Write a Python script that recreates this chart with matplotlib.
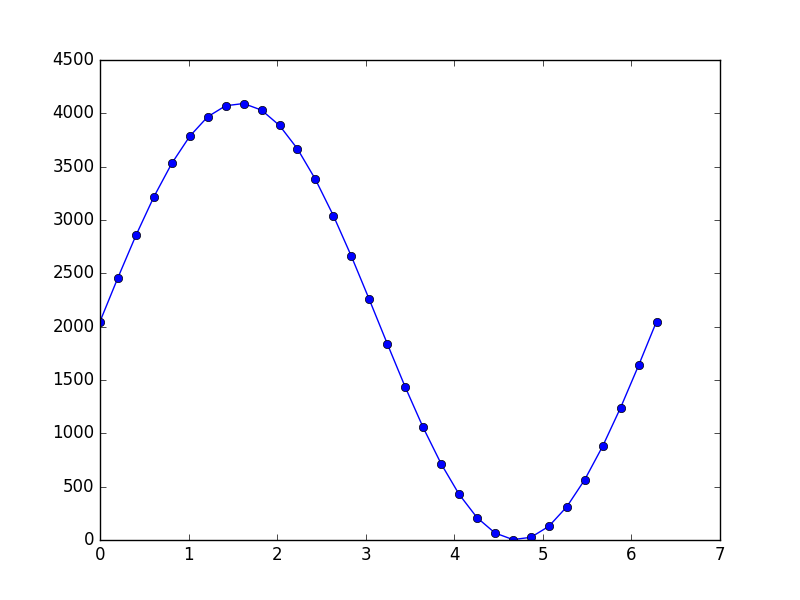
import matplotlib
matplotlib.use("Agg")
import matplotlib.pyplot as plt

# values
x_vals = [0.0, 0.2027, 0.4054, 0.6081, 0.8107, 1.0134, 1.2161, 1.4188,
          1.6215, 1.8242, 2.0268, 2.2295, 2.4322, 2.6349, 2.8376, 3.0403,
          3.2429, 3.4456, 3.6483, 3.8510, 4.0537, 4.2564, 4.4590, 4.6617,
          4.8644, 5.0671, 5.2698, 5.4725, 5.6751, 5.8778, 6.0805, 6.2832]
y_vals = [2048, 2460, 2855, 3217, 3531, 3785, 3968, 4071,
          4092, 4030, 3886, 3667, 3381, 3041, 2661, 2255,
          1841, 1435, 1055, 715, 429, 210, 66, 4,
          25, 128, 311, 565, 879, 1241, 1636, 2048]

plt.style.use("classic")
fig = plt.figure(figsize=(8, 6), dpi=100)
ax = fig.add_subplot(111)
ax.plot(x_vals, y_vals, "o-", color="b")
ax.set_xlim(0, 7)
ax.set_ylim(0, 4500)

fig.savefig("out.png", dpi=100, facecolor="white")
